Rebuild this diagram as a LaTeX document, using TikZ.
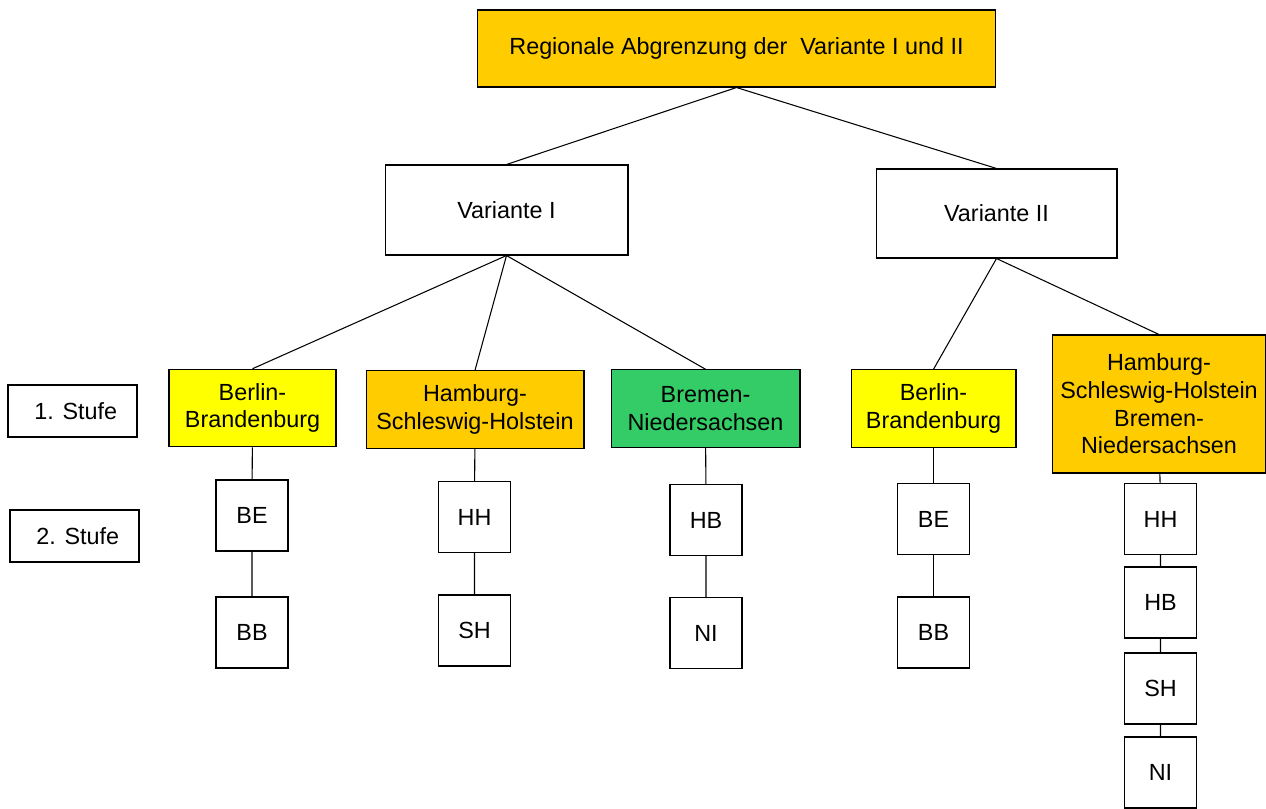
\documentclass[tikz,border=0pt]{standalone}
\usepackage{fontspec}
\setmainfont{Liberation Sans}
\definecolor{gold}{HTML}{FFCC00}
\definecolor{lemon}{HTML}{FFFF00}
\definecolor{leaf}{HTML}{33CC66}
\tikzset{
  box/.style={draw,line width=.6pt,align=center,inner sep=0pt,
    font=\fontsize{13.3}{15.7}\selectfont},
  kuerzel/.style={box,minimum width=1.44cm,minimum height=1.42cm},
  land/.style={box,minimum height=1.55cm},
}
\begin{document}
\begin{tikzpicture}[x=.02cm,y=-.02cm,line width=.6pt]
    \useasboundingbox (0,0) rectangle (1266,808);
    \node[box,fill=gold,minimum width=10.38cm,minimum height=1.54cm] (top) at (736.5,48.5)
        {Regionale Abgrenzung der\ \ Variante I und II};
    \node[box,minimum width=4.86cm,minimum height=1.8cm] (varI) at (506.5,210) {Variante I};
    \node[box,minimum width=4.82cm,minimum height=1.78cm] (varII) at (996.5,213.5) {Variante II};
    % Stufen
    \node[box,minimum width=2.58cm,minimum height=1.04cm] (stufeA) at (72.5,411) {\ 1. Stufe};
    \node[box,minimum width=2.58cm,minimum height=1.04cm] (stufeB) at (74.5,536) {\ 2. Stufe};
    % 1. Stufe
    \node[land,fill=lemon,minimum width=3.34cm] (bbI) at (252.5,408) {Berlin-\\Brandenburg};
    \node[land,fill=gold,minimum width=4.36cm] (hshI) at (475,409.5) {Hamburg-\\Schleswig-Holstein};
    \node[land,fill=leaf,minimum width=3.78cm] (bnI) at (705.5,408.5) {Bremen-\\Niedersachsen};
    \node[land,fill=lemon,minimum width=3.3cm] (bbII) at (933.5,408.5) {Berlin-\\Brandenburg};
    \node[box,fill=gold,minimum width=4.28cm,minimum height=2.76cm] (nordII) at (1159,404)
        {Hamburg-\\Schleswig-Holstein\\Bremen-\\Niedersachsen};
    % 2. Stufe
    \node[kuerzel] (beI) at (252,515.5) {BE};
    \node[kuerzel] (brI) at (252,632.5) {BB};
    \node[kuerzel] (hhI) at (474.5,517) {HH};
    \node[kuerzel] (shI) at (474.5,630.5) {SH};
    \node[kuerzel] (hbI) at (706,520) {HB};
    \node[kuerzel] (niI) at (706,633) {NI};
    \node[kuerzel] (beII) at (933.5,519) {BE};
    \node[kuerzel] (brII) at (933.5,632.5) {BB};
    \foreach \n/\y in {HH/519,HB/602.5,SH/688.5,NI/772.5}
        \node[kuerzel] (\n II) at (1160.5,\y) {\n};
    % Linien
    \draw (top.south)--(varI.north);
    \draw (top.south)--(varII.north);
    \foreach \k in {bbI,hshI,bnI}
        \draw (varI.south)--(\k.north);
    \foreach \k in {bbII,nordII}
        \draw (varII.south)--(\k.north);
    \draw (bbI)--(beI)--(brI);
    \draw (hshI)--(hhI)--(shI);
    \draw (bnI)--(hbI)--(niI);
    \draw (bbII)--(beII)--(brII);
    \draw (nordII)--(HHII)--(HBII)--(SHII)--(NIII);
\end{tikzpicture}
\end{document}
